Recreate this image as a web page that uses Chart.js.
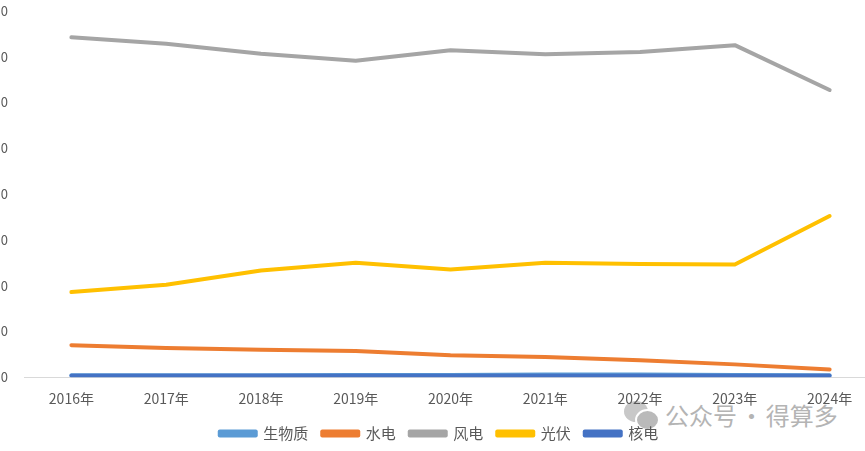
<!DOCTYPE html>
<html>
<head>
<meta charset="utf-8">
<script src="https://cdn.jsdelivr.net/npm/chart.js@4"></script>
<style>
  html, body { margin: 0; padding: 0; background: #fff; overflow: hidden; width: 865px; height: 451px; }
  #wrap { position: relative; width: 865px; height: 451px; overflow: hidden; }
  #myLineChart { position: absolute; left: -21px; top: -13px; }
  .wm { position: absolute; left: 665px; top: 397px; font: 24px "Noto Sans CJK SC", sans-serif; color: #b4b4b4; white-space: nowrap; word-spacing: -3px; }
  .wm-icon { position: absolute; left: 624px; top: 401px; width: 36px; height: 28px; }
  .wm-icon span { position: absolute; border-radius: 50%; background: #c8c8c8; }
</style>
</head>
<body>
<div id="wrap">
  <div class="wm-icon"><span style="left:0;top:0;width:24px;height:21px;"></span><span style="left:11px;top:8px;width:21px;height:18px;background:#bababa;border:2px solid #fff;"></span></div>
  <div class="wm">公众号 · 得算多</div>
  <canvas id="myLineChart" width="920" height="464"></canvas>
</div>
<script>
  const years = ["2016年", "2017年", "2018年", "2019年", "2020年", "2021年", "2022年", "2023年", "2024年"];
  const biomass = [0.4, 0.4, 0.4, 0.5, 0.5, 0.6, 0.6, 0.5, 0.4];
  const hydro = [7.0, 6.4, 6.0, 5.7, 4.8, 4.4, 3.7, 2.8, 1.7];
  const wind = [74.2, 72.8, 70.6, 69.1, 71.4, 70.5, 71.0, 72.5, 62.7];
  const solar = [18.6, 20.2, 23.3, 25.0, 23.5, 25.0, 24.7, 24.6, 35.2];
  const nuclear = [0.3, 0.3, 0.3, 0.3, 0.3, 0.3, 0.3, 0.3, 0.3];
  const yTicks = [0, 10, 20, 30, 40, 50, 60, 70, 80];

  const font = "'Noto Sans CJK SC', 'Noto Sans', sans-serif";

  function line(label, data, color, order) {
    return {
      label: label,
      data: data,
      borderColor: color,
      backgroundColor: color,
      borderWidth: 4,
      pointRadius: 0,
      tension: 0,
      borderCapStyle: "round",
      borderJoinStyle: "round",
      order: order,
    };
  }

  var ctx = document.getElementById("myLineChart").getContext("2d");
  const myLineChart = new Chart(ctx, {
    type: "line",
    data: {
      labels: years,
      datasets: [
        line("生物质", biomass, "#5B9BD5", 5),
        line("水电", hydro, "#ED7D31", 4),
        line("风电", wind, "#A5A5A5", 3),
        line("光伏", solar, "#FFC000", 2),
        line("核电", nuclear, "#4472C4", 1),
      ],
    },
    options: {
      responsive: false,
      maintainAspectRatio: false,
      animation: false,
      layout: { padding: { left: 22, right: 22, top: 0, bottom: 0 } },
      scales: {
        x: {
          offset: true,
          grid: { display: false },
          border: { display: true, color: "#D9D9D9", width: 1 },
          ticks: { color: "#595959", font: { family: font, size: 14 }, padding: 5, maxRotation: 0 },
        },
        y: {
          min: 0,
          max: 80,
          afterFit: (scale) => { scale.width = 23; },
          afterBuildTicks: (scale) => { scale.ticks = yTicks.map((v) => ({ value: v })); },
          grid: { display: false, drawTicks: false },
          border: { display: false },
          ticks: { color: "#595959", font: { family: font, size: 13 }, padding: 16 },
        },
      },
      plugins: {
        tooltip: { enabled: false },
        legend: {
          position: "bottom",
          labels: {
            boxWidth: 36,
            boxHeight: 4,
            padding: 14,
            color: "#595959",
            font: { family: font, size: 15 },
            sort: (a, b) => a.datasetIndex - b.datasetIndex,
          },
        },
      },
    },
  });
</script>
</body>
</html>
